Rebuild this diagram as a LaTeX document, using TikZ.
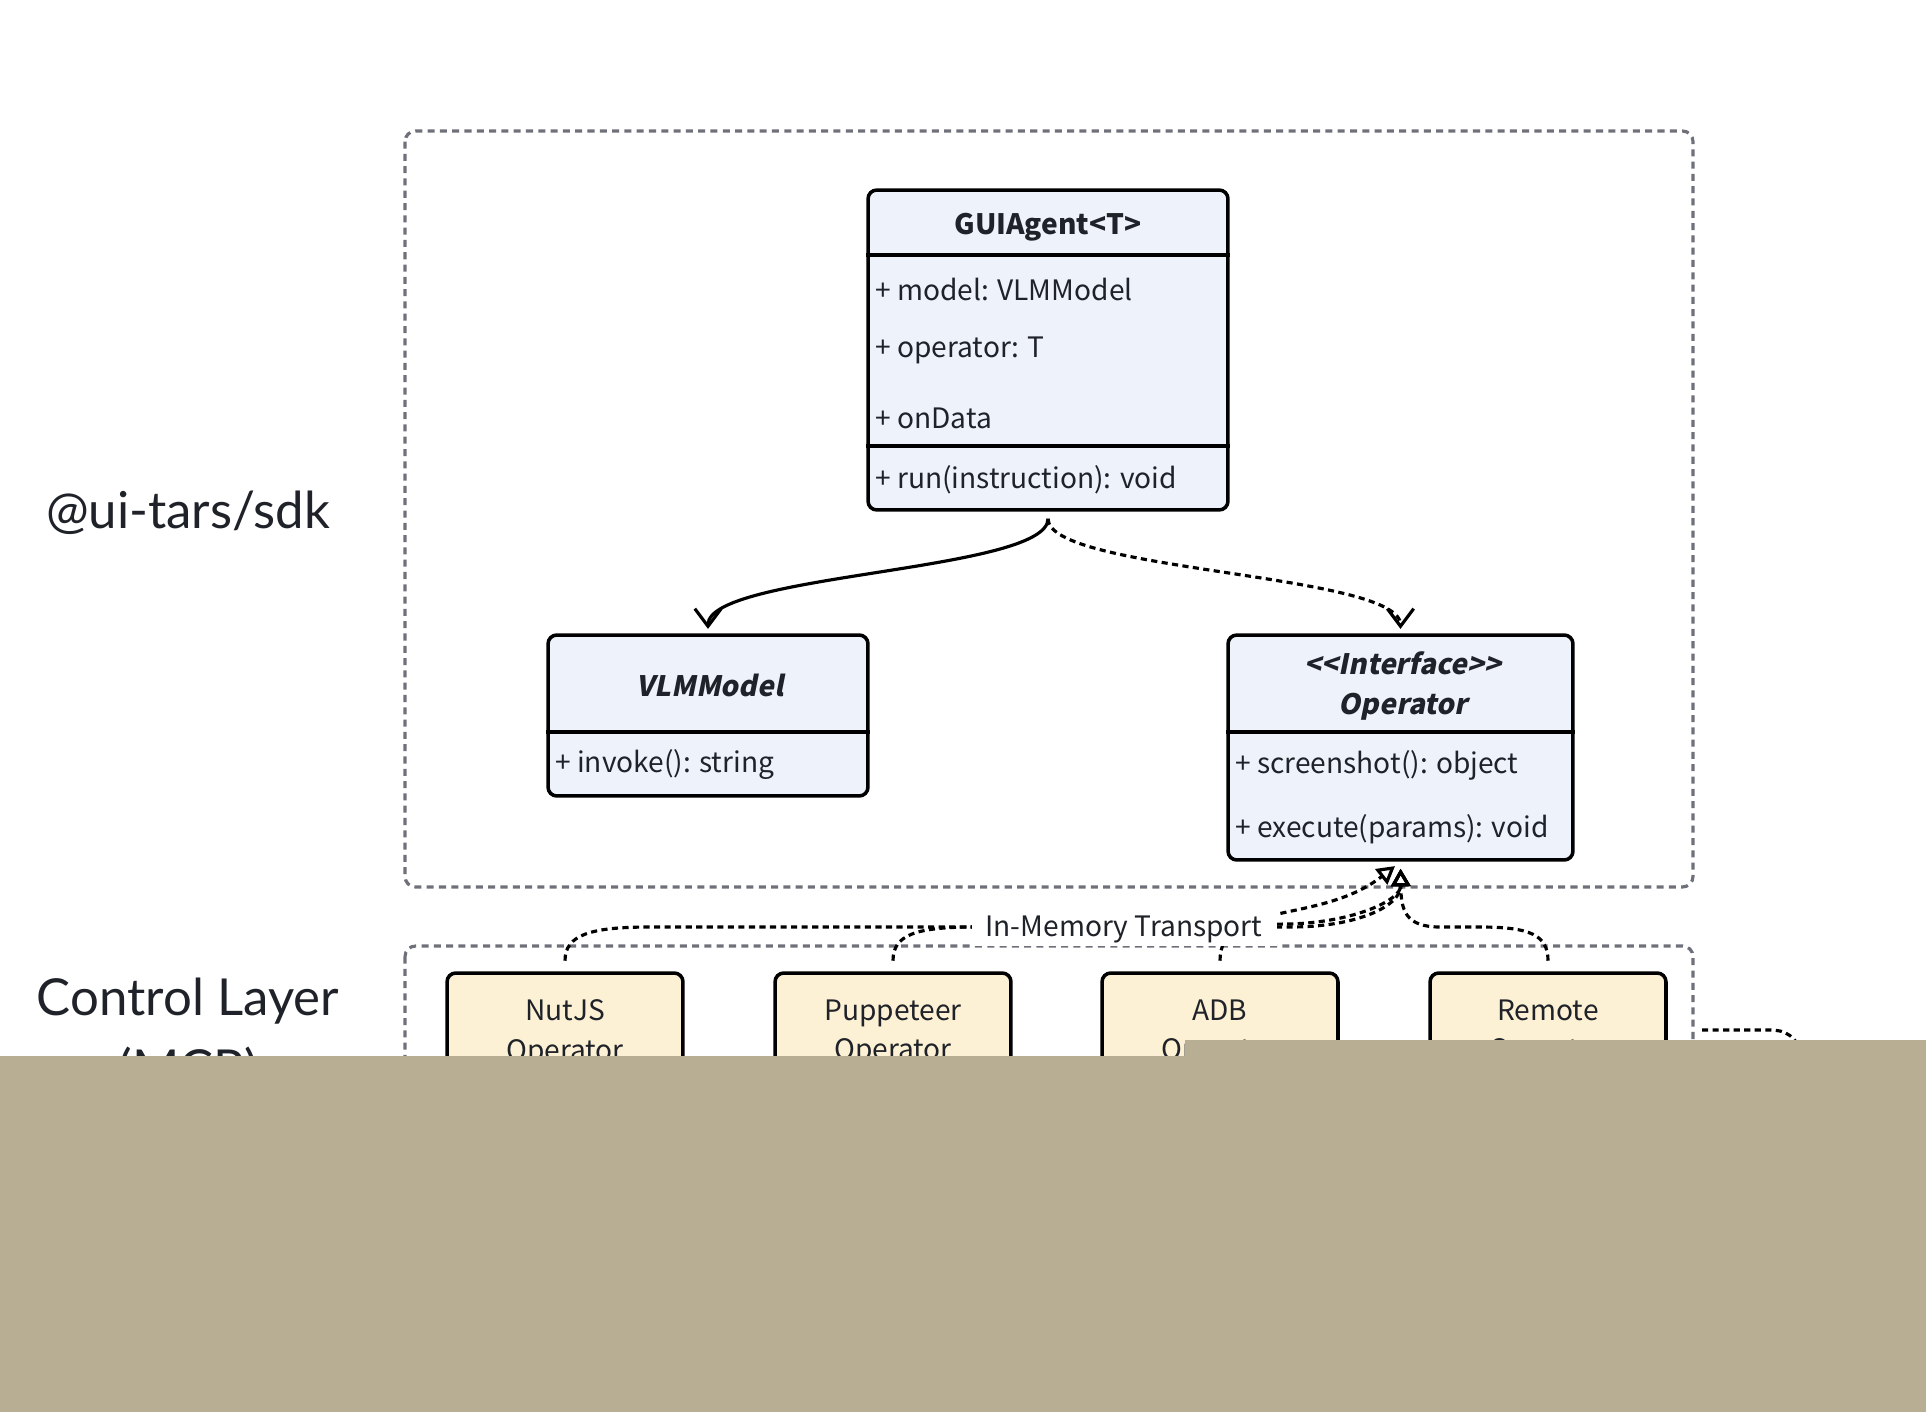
\documentclass[tikz,border=0pt]{standalone}
\usepackage{fontspec}
\setmainfont{Noto Sans CJK SC}
\newfontfamily\classital{Noto Sans CJK SC}[FakeSlant=0.2]
\newfontfamily\sidefont{Lato}
\definecolor{classfill}{HTML}{EEF2FA}
\definecolor{opfill}{HTML}{FCF1D4}
\definecolor{framegray}{HTML}{6E717A}
\definecolor{inkdark}{HTML}{1F2329}
\definecolor{covertan}{HTML}{B8AE93}
\usetikzlibrary{arrows.meta,positioning,calc}

\tikzset{
  classbox/.style={draw=black, line width=2pt, rounded corners=5pt, fill=classfill, inner sep=0pt},
  opbox/.style={draw=black, line width=2pt, rounded corners=5pt, fill=opfill, inner sep=0pt,
    minimum width=4.72cm, minimum height=2.4cm, align=center, text=inkdark,
    font=\fontsize{16}{22.5}\selectfont},
  divider/.style={black, line width=2pt},
  member/.style={anchor=west, inner sep=0pt, text=inkdark, font=\fontsize{16}{19}\selectfont},
  classtitle/.style={inner sep=0pt, text=inkdark, align=center, font=\fontsize{16}{22.7}\selectfont\bfseries},
  sidelabel/.style={text=inkdark, align=center, font=\sidefont\fontsize{29}{40}\selectfont},
  layerframe/.style={draw=framegray, line width=1.8pt, dash pattern=on 4pt off 3pt, rounded corners=6pt},
  assoc/.style={black, line width=1.8pt, shorten <=4pt, -{Straight Barb[length=10pt,width=15pt]}},
  dep/.style={assoc, dash pattern=on 3.5pt off 2.5pt},
  real/.style={black, line width=1.8pt, dash pattern=on 3.5pt off 2.5pt, shorten <=6pt, shorten >=4pt,
    -{Triangle[open,length=10pt,width=11pt]}},
  dashline/.style={black, line width=1.8pt, dash pattern=on 3.5pt off 2.5pt}
}

\begin{document}
\begin{tikzpicture}[x=0.02cm,y=-0.02cm]
  \useasboundingbox (0,0) rectangle (1926,1412);

  % layer frames
  \draw[layerframe] (405,131) rectangle (1693,887);
  \draw[layerframe] (405,946) rectangle (1693,1330);

  % side labels
  \node[sidelabel] (sdkLabel) at (188,513) {@ui-tars/sdk};
  \node[sidelabel] (mcpLabel) at (188,1036) {Control Layer\\(MCP)};

  % GUIAgent class
  \node[classbox, minimum width=7.2cm, minimum height=6.4cm] (agent) at (1048,350) {};
  \draw[divider] (agent.west |- 0,255) -- (agent.east |- 0,255);
  \draw[divider] (agent.west |- 0,446) -- (agent.east |- 0,446);
  \node[classtitle] (agentTitle) at (1048,227) {GUIAgent<T>};
  \node[member] (agentModel) at (875,289) {+ model: VLMModel};
  \node[member] (agentOp) at (875,350) {+ operator: T};
  \node[member] (agentData) at (875,418) {+ onData};
  \node[member] (agentRun) at (875,480) {+ run(instruction): void};

  % VLMModel class
  \node[classbox, minimum width=6.4cm, minimum height=3.22cm] (vlm) at (708,715.5) {};
  \draw[divider] (vlm.west |- 0,732) -- (vlm.east |- 0,732);
  \node[classtitle] (vlmTitle) at (710,685) {\classital\bfseries VLMModel};
  \node[member] (vlmInvoke) at (555,765) {+ invoke(): string};

  % Operator interface
  \node[classbox, minimum width=6.9cm, minimum height=4.5cm] (op) at (1400.5,747.5) {};
  \draw[divider] (op.west |- 0,732) -- (op.east |- 0,732);
  \node[classtitle] (opTitle) at (1403,686) {\classital\bfseries <{}<Interface>{}>\\\classital\bfseries Operator};
  \node[member] (opShot) at (1235,765) {+ screenshot(): object};
  \node[member] (opExec) at (1235,829) {+ execute(params): void};

  % agent links
  \draw[assoc, shorten >=2.5pt] (agent.south) .. controls +(0,60) and +(0,-60) .. (vlm.north);
  \draw[dep, shorten >=2.5pt] (agent.south) .. controls +(0,60) and +(0,-60) .. (op.north);

  % operator implementations
  \node[opbox] (nut) at (565,1033) {NutJS\\Operator};
  \node[opbox] (pup) at (893,1033) {Puppeteer\\Operator};
  \node[opbox] (adb) at (1220,1033) {ADB\\Operator};
  \node[opbox] (rem) at (1548,1033) {Remote\\Operator};

  \draw[real] (nut.north) .. controls (565,935) and (590,927) .. (650,927) -- (1290,927)
    .. controls (1360,927) and (1401,905) .. (op.south);
  \draw[real] (pup.north) .. controls (893,935) and (915,927) .. (975,927) -- (1290,924)
    .. controls (1355,922) and (1401,900) .. (op.south);
  \draw[real] (adb.north) .. controls (1220,900) and (1320,925) .. (op.south);
  \draw[real] (rem.north) .. controls (1548,935) and (1530,927) .. (1480,927) -- (1440,927)
    .. controls (1405,927) and (1401,910) .. (op.south);
  \node[fill=white, inner xsep=8pt, inner ysep=2pt, text=inkdark, font=\fontsize{16}{19}\selectfont] (transport)
    at (1124,929) {In-Memory Transport};

  % outgoing link
  \coordinate (mcpOut) at (1702,1030);
  \coordinate (mcpDown) at (1820,1200);
  \draw[dashline] (mcpOut) -- (1770,1030) .. controls (1800,1030) and (1815,1050) .. (mcpDown);

  % cover
  \fill[covertan] (0,1056) rectangle (1926,1412);
  \fill[covertan] (1185,1040) rectangle (1926,1057);
\end{tikzpicture}
\end{document}
